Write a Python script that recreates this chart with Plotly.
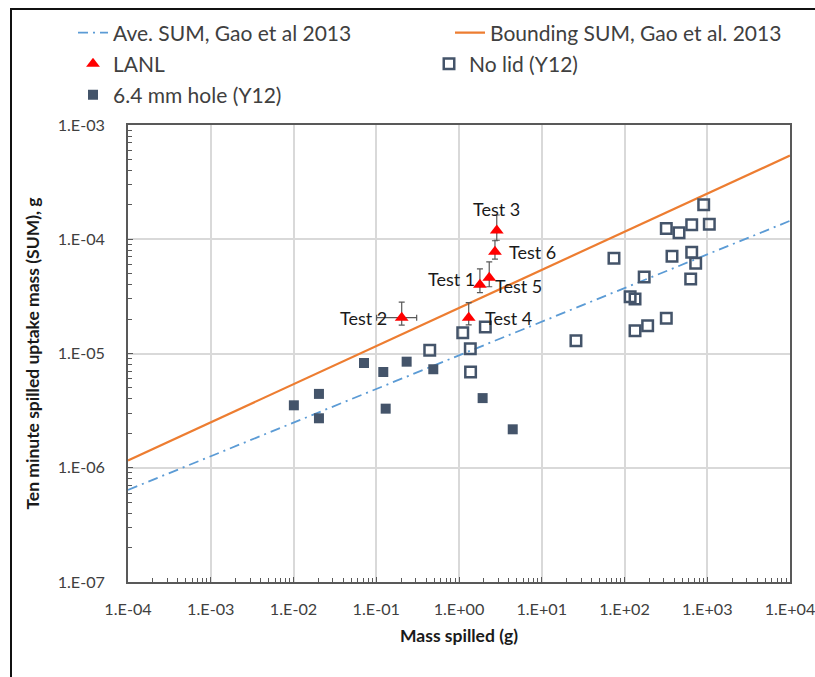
import math
import plotly.graph_objects as go

# ---------------- data ----------------
line_x = [1e-4, 1e4]
ave_sum_y = [6.4e-7, 1.45e-4]
bounding_sum_y = [1.16e-6, 5.4e-4]

lanl_labels = ["Test 1", "Test 2", "Test 3", "Test 4", "Test 5", "Test 6"]
lanl_x = [1.79, 0.203, 2.86, 1.31, 2.32, 2.72]
lanl_y = [4.0e-5, 2.06e-5, 1.19e-4, 2.06e-5, 4.6e-5, 7.78e-5]
lanl_y_hi = [5.5e-5, 2.82e-5, 1.63e-4, 2.79e-5, 6.35e-5, 9.7e-5]
lanl_y_lo = [3.41e-5, 1.77e-5, 9.8e-5, 1.78e-5, 3.84e-5, 6.7e-5]
lanl_x_hi = [None, 0.308, None, None, None, None]
lanl_x_lo = [None, 0.101, None, None, None, None]

nolid_x = [0.443, 1.11, 1.37, 1.38, 2.08, 25.9, 74.6, 117, 134, 173, 134, 190.5,
           320, 320, 456, 649, 906, 1059, 375, 649, 725, 631]
nolid_y = [1.07e-5, 1.52e-5, 1.10e-5, 6.89e-6, 1.71e-5, 1.29e-5, 6.81e-5, 3.14e-5,
           3.0e-5, 4.68e-5, 1.58e-5, 1.75e-5, 2.03e-5, 1.24e-4, 1.14e-4, 1.34e-4,
           2.0e-4, 1.35e-4, 7.1e-5, 7.7e-5, 6.17e-5, 4.49e-5]

hole_x = [0.0101, 0.0203, 0.0203, 0.0711, 0.1216, 0.130, 0.233, 0.489, 1.93, 4.46]
hole_y = [3.52e-6, 4.43e-6, 2.71e-6, 8.26e-6, 6.89e-6, 3.29e-6, 8.48e-6, 7.28e-6,
          4.07e-6, 2.17e-6]

x_tickvals = [1e-4, 1e-3, 1e-2, 1e-1, 1e0, 1e1, 1e2, 1e3, 1e4]
x_ticktext = ["1.E-04", "1.E-03", "1.E-02", "1.E-01", "1.E+00", "1.E+01",
              "1.E+02", "1.E+03", "1.E+04"]
y_tickvals = [1e-7, 1e-6, 1e-5, 1e-4, 1e-3]
y_ticktext = ["1.E-07", "1.E-06", "1.E-05", "1.E-04", "1.E-03"]

# ---------------- styling ----------------
FONT = "Lato, 'Liberation Sans', Arial, sans-serif"
TXT = "#404040"
AX = "#595959"
SLATE = "#44546A"

lanl_ex_plus = [None if h is None else h - x for h, x in zip(lanl_x_hi, lanl_x)]
lanl_ex_minus = [None if l is None else x - l for l, x in zip(lanl_x_lo, lanl_x)]
lanl_ey_plus = [h - y for h, y in zip(lanl_y_hi, lanl_y)]
lanl_ey_minus = [y - l for l, y in zip(lanl_y_lo, lanl_y)]

fig = go.Figure()

fig.add_trace(go.Scatter(
    x=line_x, y=ave_sum_y, mode="lines", name="Ave. SUM, Gao et al 2013",
    line=dict(color="#5B9BD5", width=1.8, dash="10px,5px,2px,5px"),
    legend="legend"))
fig.add_trace(go.Scatter(
    x=line_x, y=bounding_sum_y, mode="lines", name="Bounding SUM, Gao et al. 2013",
    line=dict(color="#ED7D31", width=2.2), legend="legend2"))
fig.add_trace(go.Scatter(
    x=lanl_x, y=lanl_y, mode="markers", name="LANL",
    marker=dict(symbol="triangle-up", color="#FF0000", size=12),
    error_y=dict(type="data", symmetric=False, array=lanl_ey_plus,
                 arrayminus=lanl_ey_minus, color="#595959", thickness=1.2, width=3),
    error_x=dict(type="data", symmetric=False, array=lanl_ex_plus,
                 arrayminus=lanl_ex_minus, color="#595959", thickness=1.2, width=3),
    legend="legend3"))
fig.add_trace(go.Scatter(
    x=nolid_x, y=nolid_y, mode="markers", name="No lid (Y12)",
    marker=dict(symbol="square-open", color=SLATE, size=10.5,
                line=dict(color=SLATE, width=2.5)),
    legend="legend4"))
fig.add_trace(go.Scatter(
    x=hole_x, y=hole_y, mode="markers", name="6.4 mm hole (Y12)",
    marker=dict(symbol="square", color=SLATE, size=10,
                line=dict(color=SLATE, width=0)),
    legend="legend5"))

# labels for LANL tests
label_style = {
    "Test 1": dict(xanchor="right", xshift=-3, yshift=6),
    "Test 2": dict(xanchor="right", xshift=-13, yshift=0),
    "Test 3": dict(xanchor="center", xshift=0, yshift=22),
    "Test 4": dict(xanchor="left", xshift=14, yshift=0),
    "Test 5": dict(xanchor="left", xshift=4, yshift=-8),
    "Test 6": dict(xanchor="left", xshift=12, yshift=0),
}
for lab, x, y in zip(lanl_labels, lanl_x, lanl_y):
    fig.add_annotation(x=math.log10(x), y=math.log10(y), text=lab, showarrow=False,
                       font=dict(family=FONT, size=18, color="#1a1a1a"),
                       yanchor="middle", **label_style[lab])

# plot-area geometry (pixels) for placing legends / frame
L, R, T, B = 128, 790, 125, 582
W, H = 815, 677
def px_x(p):
    return (p - L) / (R - L)
def px_y(p):
    return (B - p) / (B - T)

leg_common = dict(bgcolor="rgba(255,255,255,0)", borderwidth=0, xanchor="left",
                  yanchor="middle", font=dict(family=FONT, size=21, color=TXT),
                  itemwidth=30)
fig.update_layout(
    legend=dict(x=px_x(73), y=px_y(33), **leg_common),
    legend2=dict(x=px_x(450), y=px_y(33), **leg_common),
    legend3=dict(x=px_x(73), y=px_y(64), **leg_common),
    legend4=dict(x=px_x(429), y=px_y(64), **leg_common),
    legend5=dict(x=px_x(73), y=px_y(95), **leg_common),
)

axis_common = dict(
    type="log", showline=True, linecolor=AX, linewidth=1.5, mirror=True,
    showgrid=True, gridcolor="#D9D9D9", gridwidth=1.5,
    ticks="inside", ticklen=5, tickcolor=AX, tickwidth=1,
    tickfont=dict(family=FONT, size=16.2, color=TXT),
    ticklabeloverflow="allow",
    zeroline=False,
    minor=dict(ticks="inside", ticklen=4, tickcolor=AX, tickwidth=1,
               showgrid=False, dtick="D1"),
)

fig.update_xaxes(
    range=[-4, 4], tickmode="array", tickvals=x_tickvals, ticktext=x_ticktext,
    ticklabelstandoff=12,
    title=dict(text="<b>Mass spilled (g)</b>", standoff=13,
               font=dict(family=FONT, size=17.5, color="#1a1a1a")),
    **axis_common)
fig.update_yaxes(
    range=[-7, -3], tickmode="array", tickvals=y_tickvals, ticktext=y_ticktext,
    ticklabelstandoff=18,
    title=dict(text="<b>Ten minute spilled uptake mass (SUM), g</b>", standoff=14,
               font=dict(family=FONT, size=17.5, color="#1a1a1a")),
    **axis_common)

# outer frame (top and left edges visible in the picture)
fig.add_shape(type="rect", xref="paper", yref="paper", layer="above",
              x0=px_x(11), x1=px_x(840), y0=px_y(720), y1=px_y(9),
              line=dict(color="#111111", width=2), fillcolor="rgba(0,0,0,0)")

fig.update_layout(
    width=W, height=H,
    margin=dict(l=L, r=W - R, t=T, b=H - B, autoexpand=False),
    paper_bgcolor="white", plot_bgcolor="white",
    font=dict(family=FONT, color=TXT),
    showlegend=True,
)

post = (
    "document.body.style.margin='0';"
    "var fr=document.createElement('div');"
    "fr.style.cssText='position:absolute;left:10px;top:8px;width:900px;height:0;"
    "border-top:2px solid #111;z-index:10;pointer-events:none;';"
    "document.body.appendChild(fr);"
)
fig.write_html("out.html", config={"displayModeBar": False}, post_script=post)
